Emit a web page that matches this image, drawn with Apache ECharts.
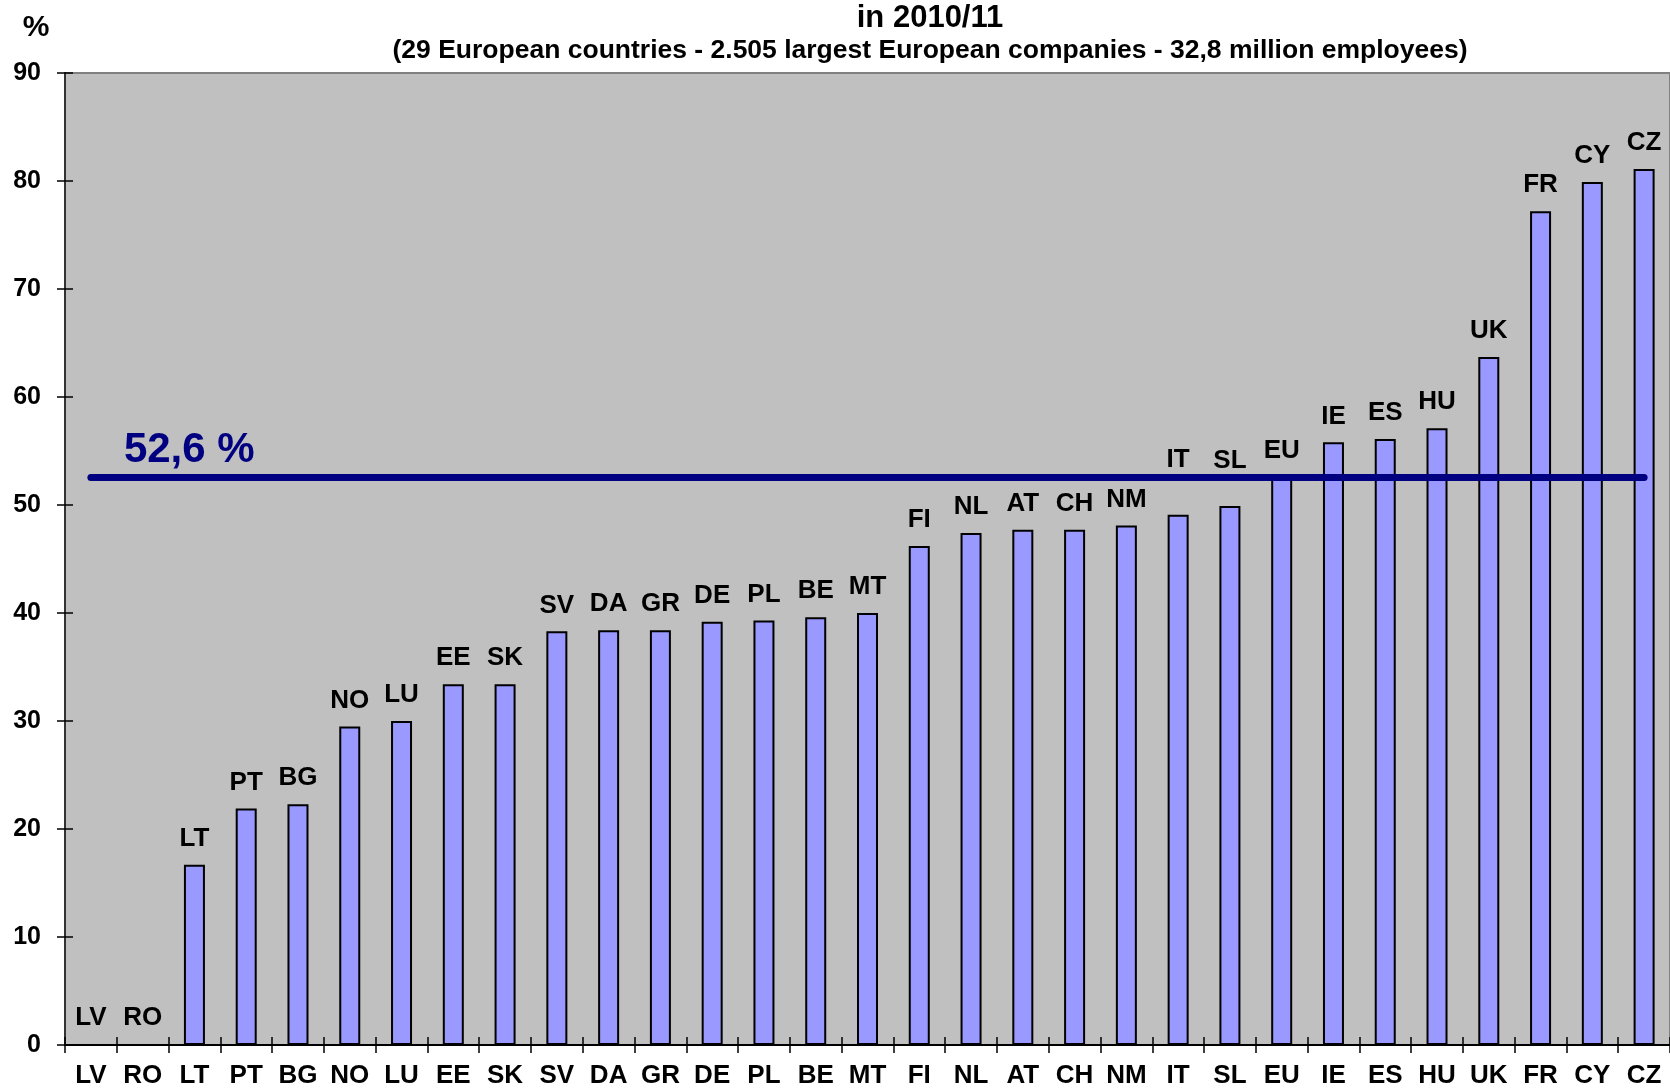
<!DOCTYPE html>
<html><head><meta charset="utf-8">
<script src="https://cdn.jsdelivr.net/npm/echarts@6/dist/echarts.min.js"></script>
<style>html,body{margin:0;padding:0;background:#fff;overflow:hidden}#c{width:1670px;height:1089px}</style>
</head><body><div id="c"></div>
<script>
const categories = ['LV','RO','LT','PT','BG','NO','LU','EE','SK','SV','DA','GR','DE','PL','BE','MT','FI','NL','AT','CH','NM','IT','SL','EU','IE','ES','HU','UK','FR','CY','CZ'];
const values = [0,0,16.7,21.9,22.3,29.5,30.0,33.4,33.4,38.3,38.4,38.4,39.2,39.3,39.6,40.0,46.2,47.4,47.7,47.7,48.1,49.1,49.9,52.6,55.8,56.1,57.1,63.7,77.2,79.9,81.1];
const euAverage = 52.6;
const euAverageLabel = '52,6 %';
const yMin = 0, yMax = 90, yStep = 10;
const titleText = 'in 2010/11';
const subtitleText = '(29 European countries - 2.505 largest European companies - 32,8 million employees)';
const yUnit = '%';
// labels lifted above the average line (style only)
const labelLift = { IT: 29, SL: 19 };

const FONT = "'Liberation Sans', Arial, sans-serif";
const chart = echarts.init(document.getElementById('c'), null, { renderer: 'canvas' });

const barData = values.map((v, i) => {
  const lift = labelLift[categories[i]];
  return lift ? { value: v, label: { offset: [0, -lift] } } : { value: v };
});

const commonX = {
  type: 'category',
  data: categories,
  boundaryGap: true
};

const option = {
  animation: false,
  backgroundColor: '#ffffff',
  grid: {
    left: 65, top: 73, right: -5.5, bottom: 44,
    show: true, backgroundColor: '#C0C0C0', borderColor: '#808080', borderWidth: 2
  },
  xAxis: [
    Object.assign({}, commonX, {
      position: 'bottom',
      axisLine: { show: true, lineStyle: { color: '#000', width: 2 } },
      axisTick: { show: true, inside: false, length: 8, lineStyle: { color: '#000', width: 1.5 } },
      axisLabel: { color: '#000', fontSize: 26, fontWeight: 'bold', fontFamily: FONT, margin: 18, interval: 0 },
      splitLine: { show: false }
    }),
    Object.assign({}, commonX, {
      position: 'bottom',
      axisLine: { show: false },
      axisTick: { show: true, inside: true, length: 8, lineStyle: { color: '#000', width: 1.5 } },
      axisLabel: { show: false },
      splitLine: { show: false }
    })
  ],
  yAxis: [
    {
      type: 'value', min: yMin, max: yMax, interval: yStep,
      axisLine: { show: true, lineStyle: { color: '#333', width: 2 } },
      axisTick: { show: true, inside: false, length: 8, lineStyle: { color: '#000', width: 1.5 } },
      axisLabel: { color: '#000', fontSize: 25, fontWeight: 'bold', fontFamily: FONT, margin: 24 },
      splitLine: { show: false }
    },
    {
      type: 'value', min: yMin, max: yMax, interval: yStep, position: 'left',
      axisLine: { show: false },
      axisTick: { show: true, inside: true, length: 8, lineStyle: { color: '#000', width: 1.5 } },
      axisLabel: { show: false },
      splitLine: { show: false }
    }
  ],
  series: [{
    type: 'bar',
    data: barData,
    barWidth: 21,
    itemStyle: { color: '#9999FF', borderColor: '#000', borderWidth: 2 },
    label: {
      show: true, position: 'top', distance: 13,
      formatter: p => p.name,
      color: '#000', fontSize: 26, fontWeight: 'bold', fontFamily: FONT, lineHeight: 26
    },
    markLine: {
      silent: true, symbol: 'none', z: 10,
      label: { show: false },
      lineStyle: { color: '#000080', width: 7, type: 'solid', cap: 'round' },
      data: [[{ coord: [categories[0], euAverage] }, { coord: [categories[categories.length - 1], euAverage] }]]
    }
  }]
};
chart.setOption(option);

const p = chart.convertToPixel({ xAxisIndex: 0, yAxisIndex: 0 }, [categories[0], euAverage]);
chart.setOption({
  graphic: [
    { type: 'text', x: 930, y: 18, style: { text: titleText, font: "bold 31px " + FONT, fill: '#000', textAlign: 'center', textVerticalAlign: 'middle' } },
    { type: 'text', x: 930, y: 51, style: { text: subtitleText, font: "bold 26.5px " + FONT, fill: '#000', textAlign: 'center', textVerticalAlign: 'middle' } },
    { type: 'text', x: 36, y: 28, style: { text: yUnit, font: "bold 30px " + FONT, fill: '#000', textAlign: 'center', textVerticalAlign: 'middle' } },
    { type: 'text', x: p[0] + 33, y: p[1] - 26, z: 20, style: { text: euAverageLabel, font: "bold 42px " + FONT, fill: '#000080', textAlign: 'left', textVerticalAlign: 'middle' } }
  ]
});
</script>
</body></html>
